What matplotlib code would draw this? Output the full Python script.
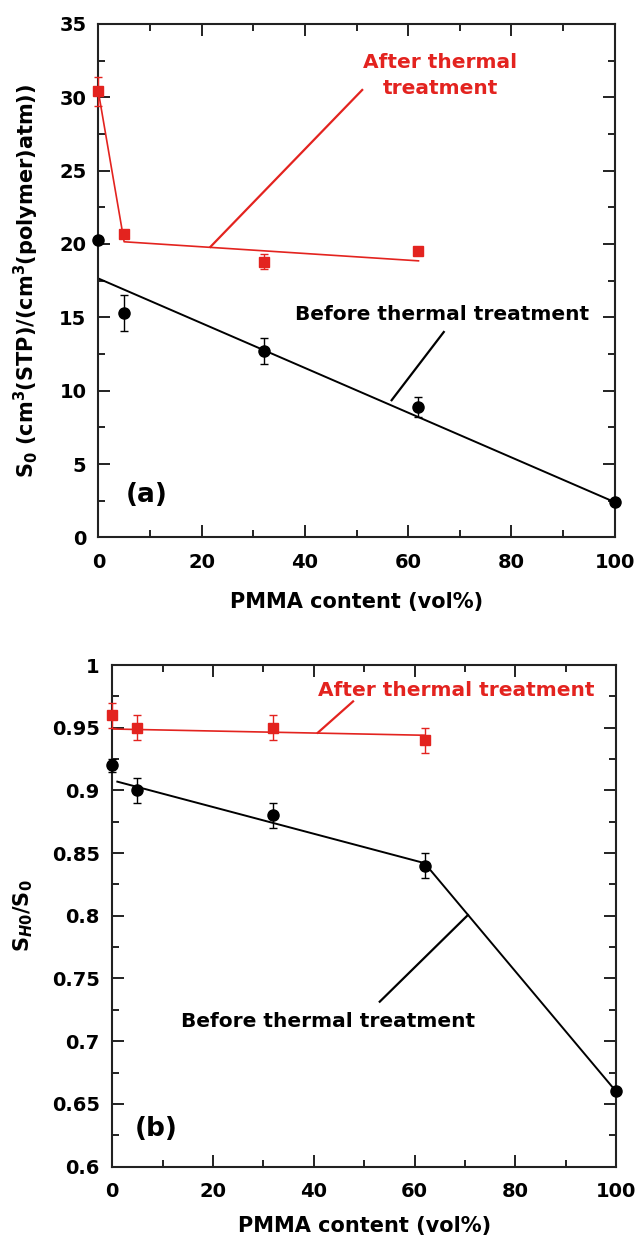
import matplotlib
matplotlib.use('Agg')
import matplotlib.pyplot as plt
from matplotlib.ticker import MultipleLocator, FuncFormatter

plt.rcParams['font.family'] = ['DejaVu Sans']
plt.rcParams['font.weight'] = 'bold'
plt.rcParams['mathtext.fontset'] = 'custom'
plt.rcParams['mathtext.rm'] = 'DejaVu Sans:bold'
plt.rcParams['mathtext.bf'] = 'DejaVu Sans:bold'
plt.rcParams['mathtext.it'] = 'DejaVu Sans:italic:bold'
plt.rcParams['mathtext.default'] = 'rm'

RED = '#e3231f'

# (a) solubility coefficient S0
pmma = [0, 5, 32, 62, 100]
s0_before = [20.3, 15.3, 12.7, 8.9, 2.4]
s0_before_err = [0, 1.2, 0.9, 0.7, 0]
pmma_after = [0, 5, 32, 62]
s0_after = [30.4, 20.7, 18.8, 19.5]
s0_after_err = [1.0, 0, 0.5, 0]
# guide lines
fit_a_before_x = [0, 100]
fit_a_before_y = [17.65, 2.4]
fit_a_after_x = [0, 5, 62]
fit_a_after_y = [30.4, 20.15, 18.85]

# (b) ratio SH0/S0
sh_before = [0.92, 0.90, 0.88, 0.84, 0.66]
sh_before_err = [0.005, 0.01, 0.01, 0.01, 0]
sh_after = [0.96, 0.95, 0.95, 0.94]
sh_after_err = [0.01, 0.01, 0.01, 0.01]
fit_b_before_x = [1, 62, 100]
fit_b_before_y = [0.907, 0.842, 0.66]
fit_b_after_x = [0, 62]
fit_b_after_y = [0.949, 0.944]

fig = plt.figure(figsize=(6.38, 12.41), dpi=100)
ax1 = fig.add_axes([0.1541, 0.567, 0.8094, 0.4137])
ax2 = fig.add_axes([0.176, 0.060, 0.7895, 0.4041])


def style_axes(ax, ymin, ymax, ymaj, ymin_step, ypad):
    ax.set_xlim(0, 100)
    ax.set_ylim(ymin, ymax)
    ax.xaxis.set_major_locator(MultipleLocator(20))
    ax.xaxis.set_minor_locator(MultipleLocator(10))
    ax.yaxis.set_major_locator(MultipleLocator(ymaj))
    ax.yaxis.set_minor_locator(MultipleLocator(ymin_step))
    ax.tick_params(which='both', direction='in', top=True, right=True, width=1.4, color='#222222')
    ax.tick_params(which='major', length=8.5, labelsize=14)
    ax.tick_params(which='minor', length=5)
    ax.tick_params(axis='x', which='major', pad=11)
    ax.tick_params(axis='y', which='major', pad=ypad)
    for sp in ax.spines.values():
        sp.set_linewidth(1.5)
        sp.set_color('#222222')
    for lab in ax.get_xticklabels() + ax.get_yticklabels():
        lab.set_fontweight('bold')


# panel (a)
ax1.plot(fit_a_before_x, fit_a_before_y, color='black', lw=1.4, clip_on=False)
ax1.plot(fit_a_after_x, fit_a_after_y, color=RED, lw=1.2, clip_on=False)
ax1.errorbar(pmma, s0_before, yerr=s0_before_err, fmt='o', color='black', ms=8,
             ecolor='black', elinewidth=1, capsize=2.9, capthick=1, clip_on=False, zorder=5)
ax1.errorbar(pmma_after, s0_after, yerr=s0_after_err, fmt='s', color=RED, ms=7.8,
             ecolor=RED, elinewidth=1, capsize=2.9, capthick=1, clip_on=False, zorder=5)
ax1.plot([21.7, 51.1], [19.8, 30.5], color=RED, lw=1.6)
ax1.text(66.2, 31.5, 'After thermal\ntreatment', color=RED, fontsize=14.5,
         fontweight='bold', ha='center', va='center', linespacing=1.45)
ax1.plot([56.8, 66.9], [9.35, 14.0], color='black', lw=1.6)
ax1.text(66.6, 15.2, 'Before thermal treatment', color='black', fontsize=14.5,
         fontweight='bold', ha='center', va='center')
ax1.text(9.4, 2.9, '(a)', fontsize=19, fontweight='bold', ha='center', va='center')
style_axes(ax1, 0, 35, 5, 2.5, 8.5)
ax1.set_xlabel('PMMA content (vol%)', fontsize=15, fontweight='bold', labelpad=15)
ax1.set_ylabel(r'S$_{\mathit{0}}$ (cm$^{3}$(STP)/(cm$^{3}$(polymer)atm))',
               fontsize=15, fontweight='bold', labelpad=13)

# panel (b)
ax2.plot(fit_b_before_x, fit_b_before_y, color='black', lw=1.4, clip_on=False)
ax2.plot(fit_b_after_x, fit_b_after_y, color=RED, lw=1.2, clip_on=False)
ax2.errorbar(pmma, sh_before, yerr=sh_before_err, fmt='o', color='black', ms=8,
             ecolor='black', elinewidth=1, capsize=2.9, capthick=1, clip_on=False, zorder=5)
ax2.errorbar(pmma_after, sh_after, yerr=sh_after_err, fmt='s', color=RED, ms=7.8,
             ecolor=RED, elinewidth=1, capsize=2.9, capthick=1, clip_on=False, zorder=5)
ax2.plot([40.8, 47.8], [0.946, 0.971], color=RED, lw=1.6)
ax2.text(68.3, 0.98, 'After thermal treatment', color=RED, fontsize=14.5,
         fontweight='bold', ha='center', va='center')
ax2.plot([53.1, 70.6], [0.7315, 0.8006], color='black', lw=1.6)
ax2.text(42.9, 0.7156, 'Before thermal treatment', color='black', fontsize=14.5,
         fontweight='bold', ha='center', va='center')
ax2.text(8.8, 0.630, '(b)', fontsize=19, fontweight='bold', ha='center', va='center')
style_axes(ax2, 0.6, 1.0, 0.05, 0.025, 9)
ax2.yaxis.set_major_formatter(FuncFormatter(lambda v, p: ('%.2f' % v).rstrip('0').rstrip('.')))
for lab in ax2.get_yticklabels():
    lab.set_fontweight('bold')
ax2.set_xlabel('PMMA content (vol%)', fontsize=15, fontweight='bold', labelpad=11)
ax2.set_ylabel(r'S$_{\mathit{H0}}$/S$_{\mathit{0}}$', fontsize=15, fontweight='bold', labelpad=12)

fig.savefig('out.png', dpi=100)
